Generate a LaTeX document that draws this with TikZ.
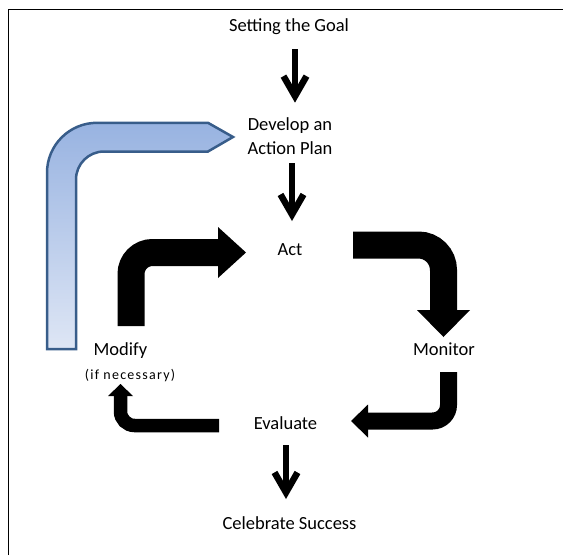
\documentclass[tikz,border=0pt]{standalone}
\usepackage{fontspec}
\setmainfont{Carlito}
\usetikzlibrary{arrows.meta}
\definecolor{loopline}{RGB}{56,93,138}
\definecolor{looptop}{RGB}{152,179,225}
\definecolor{loopbottom}{RGB}{222,230,245}
\tikzset{
  stage/.style={font=\fontsize{18.5}{24}\selectfont, inner sep=0pt, anchor=base, align=center},
  notetext/.style={font=\fontsize{14}{17}\selectfont\addfontfeatures{LetterSpace=9}, inner sep=0pt, anchor=base},
  downarrow/.style={line width=6.5pt, -{Straight Barb[length=20pt,width=23pt]}},
  loopbend/.style={line width=#1, line cap=butt},
}

\begin{document}
\begin{tikzpicture}[x=1pt,y=-1pt]
    \useasboundingbox (0,0) rectangle (563,555);
    \draw[line width=1.8pt] (8.5,555) -- (8.5,9.5) -- (563,9.5);
    % stages
    \node[stage] (goal) at (289,31.5) {Setting the Goal};
    \node[stage] (plan) at (290,154.7) {Develop an\\Action Plan};
    \node[stage] (act) at (290,255.6) {Act};
    \node[stage] (modify) at (120.5,355.7) {Modify};
    \node[notetext] (modifynote) at (130,379) {(if necessary)};
    \node[stage] (monitor) at (444,355.7) {Monitor};
    \node[stage] (evaluate) at (285.5,429.7) {Evaluate};
    \node[stage] (celebrate) at (289.5,529) {Celebrate Success};
    % straight arrows
    \draw[downarrow] ([xshift=6pt,yshift=-17.5pt]goal.base) -- ([xshift=5pt,yshift=15pt]plan.north);
    \draw[downarrow] ([xshift=2pt,yshift=-8pt]plan.south) -- ([xshift=2pt,yshift=34.6pt]act.base);
    \draw[downarrow] ([xshift=0.5pt,yshift=-15.3pt]evaluate.base) -- ([xshift=-3.5pt,yshift=30pt]celebrate.base);
    % the loop
    \draw[loopbend=27pt, rounded corners=21.5pt, -{Triangle[length=28pt,width=51pt,line width=0pt]}]
        ([xshift=10.5pt,yshift=29.7pt]modify.base) |- ([xshift=-44pt,yshift=3.1pt]act.base);
    \draw[loopbend=27pt, rounded corners=25pt, -{Triangle[length=27pt,width=53pt,line width=0pt]}]
        ([xshift=63pt,yshift=10.6pt]act.base) -| ([xshift=-0.5pt,yshift=18.7pt]monitor.base);
    \draw[loopbend=17pt, rounded corners=16pt, -{Triangle[length=17pt,width=33pt,line width=0pt]}]
        ([xshift=4.5pt,yshift=-16.3pt]monitor.base) |- ([xshift=65.5pt,yshift=8.7pt]evaluate.base);
    \draw[loopbend=13.5pt, rounded corners=14pt, -{Triangle[length=12pt,width=25pt,line width=0pt]}]
        ([xshift=-66.5pt,yshift=4.2pt]evaluate.base) -| ([xshift=-9.5pt,yshift=-5pt]modifynote.base);
    % back to the plan
    \draw[line width=2.5pt, draw=loopline, top color=looptop, bottom color=loopbottom]
        (47,349) -- (47,172.8) arc[start angle=180, end angle=90, radius=50pt] -- (208,122.8)
        -- (233,137) -- (208,151.5) -- (104,151.5) arc[start angle=90, end angle=180, radius=28pt]
        -- (76,349) -- cycle;
\end{tikzpicture}
\end{document}
